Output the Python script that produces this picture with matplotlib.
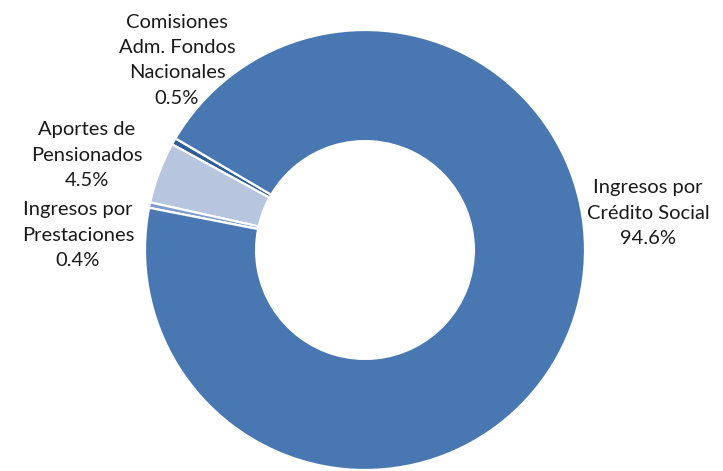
import matplotlib
matplotlib.use("Agg")
import matplotlib.pyplot as plt

categories = ["Comisiones\nAdm. Fondos\nNacionales", "Aportes de\nPensionados",
              "Ingresos por\nPrestaciones", "Ingresos por\nCrédito Social"]
shares = [0.5, 4.5, 0.4, 94.6]
colors = ["#2f5e96", "#b7c5df", "#7d9ccd", "#4877b1"]

# label centres in pixels (x, y of first line), measured from the top-left
label_pos = [(177, 22), (87, 130), (78, 210), (648, 188)]

W, H = 723, 471
fig = plt.figure(figsize=(W / 100, H / 100), dpi=100)
cx, cy, r = 365, 250, 220
ax = fig.add_axes([(cx - r) / W, (H - cy - r) / H, 2 * r / W, 2 * r / H])
ax.pie(shares, colors=colors, startangle=149.5, counterclock=True,
       radius=1.0, wedgeprops=dict(width=0.505, edgecolor="white", linewidth=1.6))
ax.set_xlim(-1, 1)
ax.set_ylim(-1, 1)
ax.set_aspect("equal")
ax.axis("off")

line_h = 25.5
for name, val, (x, y) in zip(categories, shares, label_pos):
    lines = name.split("\n") + [f"{val:.1f}%"]
    for i, ln in enumerate(lines):
        fig.text(x / W, 1 - (y + i * line_h) / H, ln, ha="center", va="center",
                 fontsize=14.5, family="Lato", color="#1a1a1a")

fig.savefig("out.png", dpi=100)
